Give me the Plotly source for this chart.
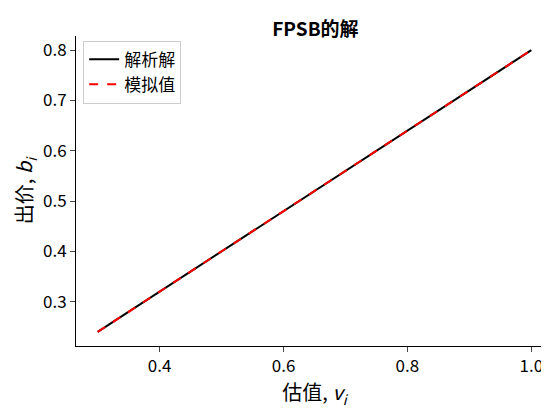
import plotly.graph_objects as go

valuations = [0.3, 0.4, 0.5, 0.6, 0.7, 0.8, 0.9, 1.0]
analytic_bids = [0.24, 0.32, 0.40, 0.48, 0.56, 0.64, 0.72, 0.80]
simulated_bids = [0.24, 0.32, 0.40, 0.48, 0.56, 0.64, 0.72, 0.80]
x_ticks = [0.4, 0.6, 0.8, 1.0]
y_ticks = [0.3, 0.4, 0.5, 0.6, 0.7, 0.8]

font = "Noto Sans CJK SC, DejaVu Sans"
fig = go.Figure()
fig.add_trace(go.Scatter(x=valuations, y=analytic_bids, mode="lines", name="解析解",
                         line=dict(color="black", width=2)))
fig.add_trace(go.Scatter(x=valuations, y=simulated_bids, mode="lines", name="模拟值",
                         line=dict(color="red", width=2, dash="dash")))
fig.update_layout(
    width=549, height=412, paper_bgcolor="white", plot_bgcolor="white",
    margin=dict(l=68, r=4, t=28, b=74),
    font=dict(family=font, size=17, color="black"),
    title=dict(text="<b>FPSB的解</b>", x=0.56, xanchor="center", y=0.965, font=dict(size=19)),
    legend=dict(x=0.015, y=0.985, xanchor="left", yanchor="top", bordercolor="#cccccc",
                borderwidth=1, font=dict(size=17)),
    xaxis=dict(range=[0.265, 1.035], tickvals=x_ticks, ticktext=["0.4", "0.6", "0.8", "1.0"],
               showline=True, linecolor="black", ticks="outside", showgrid=False, zeroline=False,
               title=dict(text="估值, <i>v<sub>i</sub></i>", standoff=4)),
    yaxis=dict(range=[0.212, 0.828], tickvals=y_ticks, showline=True, linecolor="black",
               ticks="outside", showgrid=False, zeroline=False,
               title=dict(text="出价, <i>b<sub>i</sub></i>", standoff=4)),
)
fig.write_html("out.html")
